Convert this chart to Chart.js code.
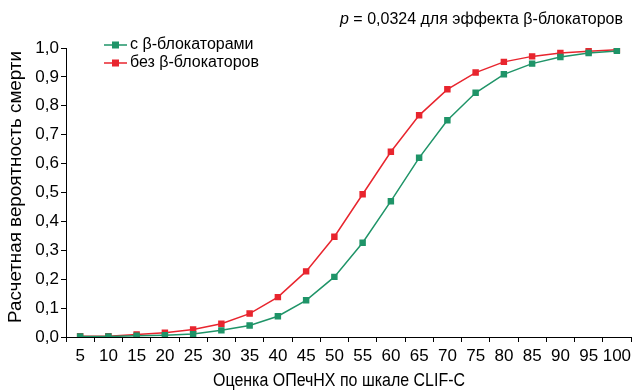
<!DOCTYPE html>
<html>
<head>
<meta charset="utf-8">
<script src="https://cdn.jsdelivr.net/npm/chart.js@4.4.0/dist/chart.umd.min.js"></script>
<style>
  html, body { margin: 0; padding: 0; background: #fff; }
  #wrap { width: 636px; height: 390px; }
</style>
</head>
<body>
<div id="wrap"><canvas id="curve"></canvas></div>
<script>
var scores = ['5','10','15','20','25','30','35','40','45','50','55','60','65','70','75','80','85','90','95','100'];
var withBeta = [0.002,0.002,0.004,0.006,0.010,0.023,0.040,0.072,0.127,0.208,0.326,0.470,0.620,0.750,0.845,0.909,0.946,0.969,0.983,0.990];
var withoutBeta = [0.003,0.003,0.009,0.015,0.026,0.046,0.081,0.138,0.227,0.347,0.494,0.641,0.767,0.857,0.915,0.952,0.971,0.983,0.989,0.994];
var yTicks = [0,0.1,0.2,0.3,0.4,0.5,0.6,0.7,0.8,0.9,1.0];

var font = "Arial, 'Liberation Sans', sans-serif";
var green = '#1f9468';
var red = '#e8252e';

// text squeezed/stretched to a set length, like the source figure
function fitText(ctx, text, cx, cy, len, angle) {
  ctx.save();
  ctx.translate(cx, cy);
  ctx.rotate(angle);
  var w = ctx.measureText(text).width;
  ctx.scale(len / w, 1);
  ctx.textAlign = 'center';
  ctx.textBaseline = 'middle';
  ctx.fillText(text, 0, 0);
  ctx.restore();
}

// p-value note, legend and axis titles drawn on top of the chart
var notes = {
  id: 'notes',
  afterDraw: function(chart) {
    var ctx = chart.ctx;
    ctx.save();
    ctx.fillStyle = '#000';
    ctx.textBaseline = 'middle';
    ctx.font = '16px ' + font;
    var rest = ' = 0,0324 для эффекта β-блокаторов';
    var right = 623;
    ctx.textAlign = 'right';
    ctx.fillText(rest, right, 20);
    var w = ctx.measureText(rest).width;
    ctx.font = 'italic 16px ' + font;
    ctx.fillText('p', right - w, 20);

    ctx.textAlign = 'left';
    ctx.font = '16px ' + font;
    chart.data.datasets.forEach(function(ds, i) {
      var y = 45 + i * 18;
      ctx.strokeStyle = ds.borderColor;
      ctx.lineWidth = 1.5;
      ctx.beginPath();
      ctx.moveTo(104, y);
      ctx.lineTo(127, y);
      ctx.stroke();
      ctx.fillStyle = ds.backgroundColor;
      ctx.fillRect(112, y - 3.5, 7, 7);
      ctx.fillStyle = '#000';
      ctx.fillText(ds.label, 130, y);
    });

    ctx.font = '18px ' + font;
    fitText(ctx, 'Оценка ОПечНХ по шкале CLIF-C', 339, 381, 252, 0);
    fitText(ctx, 'Расчетная вероятность смерти', 16, 187, 272, -Math.PI / 2);
    ctx.restore();
  }
};

new Chart(document.getElementById('curve').getContext('2d'), {
  type: 'line',
  data: {
    labels: scores,
    datasets: [{
      label: 'с β-блокаторами',
      data: withBeta,
      borderColor: green,
      backgroundColor: green,
      borderWidth: 1.5,
      pointStyle: 'rect',
      pointRadius: 3.5,
      pointHoverRadius: 3.5,
      tension: 0
    }, {
      label: 'без β-блокаторов',
      data: withoutBeta,
      borderColor: red,
      backgroundColor: red,
      borderWidth: 1.5,
      pointStyle: 'rect',
      pointRadius: 3.5,
      pointHoverRadius: 3.5,
      tension: 0
    }]
  },
  options: {
    responsive: true,
    maintainAspectRatio: false,
    animation: false,
    layout: { padding: { top: 48, right: 5, left: 0, bottom: 0 } },
    plugins: {
      legend: { display: false },
      tooltip: { enabled: false }
    },
    scales: {
      x: {
        type: 'category',
        offset: true,
        afterFit: function(scale) { scale.height = 53; },
        grid: { offset: true, drawOnChartArea: false, drawTicks: true, tickLength: 5, color: '#000' },
        border: { display: true, color: '#000', width: 1 },
        ticks: { color: '#000', font: { family: font, size: 17 }, autoSkip: false, maxRotation: 0, padding: 4 }
      },
      y: {
        min: 0,
        max: 1,
        afterBuildTicks: function(scale) {
          scale.ticks = yTicks.map(function(v) { return { value: v }; });
        },
        afterFit: function(scale) { scale.width = 66; },
        grid: { drawOnChartArea: false, drawTicks: true, tickLength: 5, color: '#000' },
        border: { display: true, color: '#000', width: 1 },
        ticks: {
          color: '#000',
          font: { family: font, size: 17 },
          padding: 2,
          callback: function(v) { return v.toFixed(1).replace('.', ','); }
        }
      }
    }
  },
  plugins: [notes]
});
</script>
</body>
</html>
